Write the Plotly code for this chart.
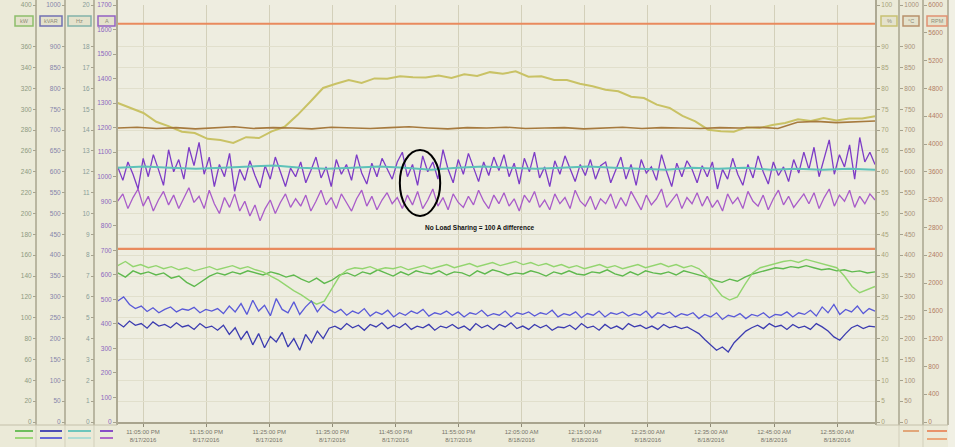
import numpy as np
import plotly.graph_objects as go

W, H = 955, 447
def px(x): return x / W
def py(y): return 1 - y / H

# ---------------- data ----------------
# time axis: minutes after 11:05 PM (8/17/2016)
tick_minutes = [0, 10, 20, 30, 40, 50, 60, 70, 80, 90, 100, 110]
tick_labels = ["11:05:00 PM<br>8/17/2016", "11:15:00 PM<br>8/17/2016", "11:25:00 PM<br>8/17/2016",
               "11:35:00 PM<br>8/17/2016", "11:45:00 PM<br>8/17/2016", "11:55:00 PM<br>8/17/2016",
               "12:05:00 AM<br>8/18/2016", "12:15:00 AM<br>8/18/2016", "12:25:00 AM<br>8/18/2016",
               "12:35:00 AM<br>8/18/2016", "12:45:00 AM<br>8/18/2016", "12:55:00 AM<br>8/18/2016"]
t_first, t_last = -4.0, 116.0

# Generator current A (purple axis, 0-1700)
amps_gen1 = [1040, 985, 1060, 1010, 950, 1075, 1000, 1090, 1030, 965, 1110, 1020, 1070, 990, 1120, 1045,
             1140, 1010, 1080, 960, 1050, 1000, 1095, 940, 1030, 985, 1065, 1005, 955, 1045, 990, 1080, 1020, 960, 1035, 1000,
             1060, 975, 1025, 1080, 995, 1040, 960, 1070, 1010, 1050, 985, 1090, 1015, 970, 1055, 1000, 1075, 1030, 990, 1060,
             1100, 1000, 1050, 965, 1085, 1020, 1060, 990, 1110, 1030, 975, 1070, 1010, 1095, 1040, 980, 1060, 1005, 1080, 1025,
             1090, 1000, 1055, 970, 1075, 1020, 1100, 995, 1040, 960, 1065, 1010, 1085, 1030, 980, 1050, 1005, 1070, 990, 1045,
             1060, 975, 1030, 1080, 990, 1050, 965, 1070, 1015, 1040, 985, 1090, 1020, 960, 1055, 1000, 1065, 1030, 975, 1045,
             1000, 1060, 950, 1030, 990, 1075, 1010, 965, 1050, 995, 1085, 1020, 970, 1060, 1005, 1040, 980, 1070, 1015, 1100,
             1030, 1120, 1000, 1080, 1150, 1010, 1090, 1040, 1130, 990, 1160, 1060, 1100, 1050]
amps_gen2 = [900, 930, 870, 915, 950, 880, 920, 860, 905, 940, 885, 925, 870, 910, 955, 895,
             920, 870, 945, 890, 850, 915, 875, 930, 860, 900, 840, 885, 820, 870, 905, 850, 895, 930, 875, 910,
             880, 925, 860, 900, 945, 885, 915, 870, 930, 895, 860, 910, 945, 880, 920, 865, 905, 935, 890, 915,
             870, 925, 885, 940, 870, 905, 950, 880, 915, 865, 930, 895, 875, 920, 885, 945, 900, 870, 925, 890,
             935, 880, 910, 860, 925, 895, 940, 875, 905, 865, 930, 890, 915, 870, 945, 900, 880, 920, 865, 910,
             890, 930, 870, 915, 880, 940, 900, 865, 925, 885, 910, 950, 875, 905, 930, 870, 915, 890, 935, 880,
             920, 875, 905, 860, 930, 890, 915, 870, 940, 900, 880, 925, 865, 910, 945, 885, 920, 875, 905, 930,
             890, 935, 870, 915, 950, 880, 925, 900, 945, 875, 920, 890, 930, 905]

# Teal trace (0-20 axis)
teal_vals = [12.2, 12.25, 12.2, 12.15, 12.2, 12.25, 12.3, 12.2, 12.15, 12.2, 12.25, 12.2, 12.1, 12.2, 12.25,
             12.2, 12.15, 12.2, 12.25, 12.2, 12.15, 12.1, 12.2, 12.15, 12.2, 12.1, 12.15, 12.1, 12.15, 12.1]

# Yellow trace (right axis 0-100)
yellow_vals = [76.5, 75.3, 74.1, 72.0, 70.9, 69.6, 69.3, 67.9, 67.6, 66.9, 68.3, 68.1, 69.7, 70.8, 73.6,
               76.8, 80.1, 81.1, 82.0, 81.3, 82.4, 82.3, 82.9, 82.7, 82.6, 83.1, 82.5, 83.4, 83.0, 83.9,
               83.5, 84.1, 82.8, 82.9, 82.0, 82.0, 81.1, 80.5, 79.7, 79.3, 78.0, 77.7, 76.1, 75.3, 73.4,
               72.1, 70.1, 69.7, 69.6, 70.7, 70.5, 71.2, 71.7, 72.6, 72.2, 72.9, 72.3, 72.8, 72.8, 73.3]

# Brown trace (right axis 0-1000)
brown_vals = [705, 707, 704, 706, 703, 705, 708, 704, 706, 705, 703, 707, 705, 704, 706, 708, 705, 703, 706, 705,
              707, 704, 705, 706, 703, 705, 707, 704, 706, 705, 704, 706, 705, 707, 704, 719, 721, 718, 720, 722]

# Green traces (left axis 0-400)
green_1 = [150, 154, 149, 151, 148, 150, 147, 149, 146, 148, 145, 147, 149, 146, 148, 150, 147, 149, 146, 144,
           140, 136, 131, 126, 122, 117, 113, 116, 128, 140, 146, 148, 147, 149, 146, 148, 147, 149, 146, 148,
           150, 147, 149, 151, 148, 150, 152, 149, 151, 153, 150, 152, 154, 151, 153, 150, 152, 149, 151, 148,
           150, 147, 149, 151, 148, 150, 147, 149, 151, 148, 150, 152, 149, 151, 148, 150, 147, 140, 130, 121,
           117, 120, 132, 143, 148, 150, 152, 154, 155, 153, 156, 154, 152, 150, 148, 140, 130, 124, 127, 130]
green_2 = [143, 139, 145, 142, 144, 141, 143, 138, 140, 134, 130, 135, 140, 143, 141, 144, 142, 145, 143, 141,
           144, 142, 139, 141, 137, 134, 138, 133, 136, 141, 143, 140, 144, 142, 146, 143, 140, 144, 141, 145,
           143, 142, 145, 141, 144, 143, 140, 145, 142, 146, 144, 141, 143, 142, 145, 143, 140, 144, 142, 145,
           142, 141, 144, 143, 146, 142, 140, 144, 141, 145, 143, 142, 144, 141, 145, 143, 141, 139, 136, 134,
           137, 135, 139, 142, 144, 146, 148, 147, 149, 148, 150, 148, 146, 147, 145, 146, 144, 145, 143, 144]

# Blue traces (left axis 0-1000)
blue_1 = [290, 300, 282, 272, 278, 265, 274, 262, 270, 276, 264, 271, 268, 275, 262, 270, 266,
          272, 260, 278, 264, 284, 258, 292, 266, 280, 255, 296, 270, 262, 288, 258, 276, 290, 264, 282, 270,
          262, 270, 256, 266, 260, 272, 254, 264, 258, 268, 252, 262, 256, 266, 260, 270, 254, 262, 258, 266,
          256, 264, 252, 262, 258, 268, 254, 260, 256, 266, 252, 262, 258, 264, 254, 262, 258, 268, 252, 260,
          256, 264, 250, 260, 256, 266, 252, 262, 258, 264, 254, 260, 256, 266, 250, 262, 258, 264, 252, 260,
          256, 262, 248, 258, 252, 262, 246, 256, 252, 260, 248, 258, 254, 262, 250, 258, 256, 264, 252, 262,
          258, 268, 254, 276, 262, 282, 258, 270, 264, 278, 260, 272, 266]
blue_2 = [238, 228, 242, 232, 236, 225, 240, 230, 234, 226, 238, 228, 232, 222, 236, 226, 230,
          220, 232, 210, 226, 198, 218, 185, 212, 178, 205, 192, 215, 180, 200, 172, 210, 190, 218, 200, 225,
          230, 222, 236, 226, 232, 220, 234, 228, 238, 224, 232, 226, 236, 222, 230, 226, 234, 220, 230, 226,
          234, 224, 230, 220, 236, 226, 232, 222, 234, 228, 238, 224, 230, 222, 234, 226, 232, 220, 228, 226,
          232, 222, 236, 226, 230, 220, 234, 224, 230, 222, 236, 228, 232, 224, 230, 222, 234, 226, 230, 224,
          228, 220, 212, 198, 185, 172, 180, 168, 190, 205, 218, 226, 232, 224, 236, 228, 232, 222, 234, 226,
          230, 222, 236, 228, 218, 204, 196, 212, 226, 232, 224, 230, 228]

# Orange limit traces (right axis 0-6000)
orange_high = [5730, 5730]
orange_low = [2490, 2490]

# ---------------- figure ----------------
def times(vals):
    return np.linspace(t_first, t_last, len(vals))

BG = "#EBEAD8"
PLOT_BG = "#EEEDE0"
SEP = "#ADA993"
FONT = "Liberation Sans"

fig = go.Figure()
def add(vals, axis, color, width=1.3):
    fig.add_trace(go.Scatter(x=times(vals), y=vals, yaxis=axis, mode="lines",
                             line=dict(color=color, width=width), showlegend=False, hoverinfo="skip"))

add(orange_high, "y7", "#E98A5E", 2.2)
add(orange_low, "y7", "#E98A5E", 2.2)
add(yellow_vals, "y5", "#C9C265", 2.0)
add(brown_vals, "y6", "#A67A3E", 1.6)
add(teal_vals, "y4", "#5EC2B9", 2.0)
add(amps_gen2, "y", "#A95CC9", 1.3)
add(amps_gen1, "y", "#7D3CC6", 1.3)
add(green_2, "y2", "#5FB94E", 1.4)
add(green_1, "y2", "#93D56F", 1.4)
add(blue_2, "y3", "#3C3CB0", 1.3)
add(blue_1, "y3", "#5A5AD8", 1.3)

dom_y = [py(422), py(5)]
tickfont = lambda c: dict(family=FONT, size=6.5, color=c)

def vals_for(maxv, step, skip_second=True):
    v = list(np.arange(0, maxv + step / 2, step))
    v = [int(a) if float(a).is_integer() else a for a in v]
    if skip_second:
        v = v[:-2] + v[-1:]
    return v

common = dict(domain=dom_y, ticks="outside", ticklen=3, tickcolor="#A6A28E", showgrid=False,
              zeroline=False, showline=False, fixedrange=True, automargin=False)

fig.update_layout(
    width=W, height=H, margin=dict(l=0, r=0, t=0, b=0, autoexpand=False),
    paper_bgcolor=BG, plot_bgcolor=PLOT_BG,
    font=dict(family=FONT, size=7, color="#8E8C78"),
    xaxis=dict(domain=[px(117), px(876)], range=[-4.12, 116.16], tickvals=tick_minutes, ticktext=tick_labels,
               ticks="outside", ticklen=3, tickcolor="#8E8A76", showgrid=True, gridcolor="#D3D0BA", gridwidth=1,
               showline=True, linecolor="#A8A48E", linewidth=2, zeroline=False, automargin=False,
               tickfont=dict(family=FONT, size=6, color="#77756A"), fixedrange=True),
    yaxis=dict(range=[0, 1700], tickvals=vals_for(1700, 100, False), anchor="x", side="left",
               tickfont=tickfont("#8A68BE"), **common),
    yaxis2=dict(range=[0, 400], tickvals=vals_for(400, 20), overlaying="y", anchor="free", side="left",
                position=px(36), tickfont=tickfont("#8E9A80"), **common),
    yaxis3=dict(range=[0, 1000], tickvals=vals_for(1000, 50), overlaying="y", anchor="free", side="left",
                position=px(65), tickfont=tickfont("#8585AA"), **common),
    yaxis4=dict(range=[0, 20], tickvals=vals_for(20, 1), overlaying="y", anchor="free", side="left",
                position=px(94), tickfont=tickfont("#8A9E98"),
                **{**common, "showgrid": True, "gridcolor": "#E1DFCC"}),
    yaxis5=dict(range=[0, 100], tickvals=vals_for(100, 5), overlaying="y", anchor="x", side="right",
                tickfont=tickfont("#A8A47A"), **common),
    yaxis6=dict(range=[0, 1000], tickvals=vals_for(1000, 50), overlaying="y", anchor="free", side="right",
                position=px(899), tickfont=tickfont("#A89078"), **common),
    yaxis7=dict(range=[0, 6000], tickvals=vals_for(6000, 400, False), overlaying="y", anchor="free", side="right",
                position=px(923), tickfont=tickfont("#B27C64"), **common),
)

shapes = []
# plot area top strip
shapes.append(dict(type="rect", xref="paper", yref="paper", x0=px(117), x1=px(876), y0=py(5), y1=1,
                   fillcolor=PLOT_BG, line=dict(width=0), layer="below"))
# right margin strip
shapes.append(dict(type="rect", xref="paper", yref="paper", x0=px(948), x1=1, y0=0, y1=1,
                   fillcolor="#F1F0E4", line=dict(width=0), layer="below"))
# column separators
for xs in [36, 65, 94, 117, 876, 899, 923, 948]:
    shapes.append(dict(type="line", xref="paper", yref="paper", x0=px(xs), x1=px(xs), y0=py(425), y1=1,
                       line=dict(color=SEP, width=2 if xs in (117, 876) else 1.6)))
for xs in [36, 65, 94, 899, 923]:
    shapes.append(dict(type="line", xref="paper", yref="paper", x0=px(xs), x1=px(xs), y0=0, y1=py(425),
                       line=dict(color="#D2CFBB", width=1)))
shapes.append(dict(type="line", xref="paper", yref="paper", x0=0, x1=px(117), y0=py(425), y1=py(425),
                   line=dict(color="#C4C0AA", width=1)))
shapes.append(dict(type="line", xref="paper", yref="paper", x0=px(876), x1=px(948), y0=py(425), y1=py(425),
                   line=dict(color="#C4C0AA", width=1)))
# header boxes
boxes = [(15, 33, "#8DBF6B", "kW"), (40, 62, "#7171B2", "kVAR"), (68, 91, "#82B2A9", "Hz"),
         (98, 115, "#9262C2", "A"), (881, 897, "#C8C172", "%"), (903, 919, "#B8916B", "°C"),
         (927, 947, "#E19172", "RPM")]
annotations = []
for x0, x1, c, txt in boxes:
    shapes.append(dict(type="rect", xref="paper", yref="paper", x0=px(x0), x1=px(x1), y0=py(26), y1=py(16),
                       fillcolor="#E4E2CC", line=dict(color=c, width=1.5)))
    annotations.append(dict(xref="paper", yref="paper", x=px((x0 + x1) / 2), y=py(21), text=txt,
                            showarrow=False, font=dict(family=FONT, size=5.5, color="#8E8C78"),
                            xanchor="center", yanchor="middle"))
# bottom legend samples
legend_marks = [(15, 33, 431, "#5FB94E"), (15, 33, 438, "#93D56F"),
                (40, 62, 431, "#3C3CB0"), (40, 62, 438, "#5A5AD8"),
                (68, 91, 431, "#5EC2B9"), (68, 91, 438, "#A8DCD4"),
                (100, 113, 431, "#7D3CC6"), (100, 113, 438, "#A95CC9"),
                (903, 919, 431, "#E0A070"),
                (927, 947, 431, "#E98A5E"), (927, 947, 439, "#EBA070")]
for x0, x1, yy, c in legend_marks:
    shapes.append(dict(type="line", xref="paper", yref="paper", x0=px(x0), x1=px(x1), y0=py(yy), y1=py(yy),
                       line=dict(color=c, width=1.8)))
# annotation ellipse around the current traces
shapes.append(dict(type="circle", xref="x", yref="y", x0=40.7, x1=47.1, y0=840, y1=1109,
                   line=dict(color="black", width=2)))
annotations.append(dict(xref="x", yref="y", x=53.4, y=791, text="<b>No Load Sharing = 100 A difference</b>",
                        showarrow=False, font=dict(family=FONT, size=6.5, color="#111111"),
                        xanchor="center", yanchor="middle"))

fig.update_layout(shapes=shapes, annotations=annotations)
fig.write_html("out.html", config={"displayModeBar": False, "staticPlot": True},
               post_script="document.body.style.margin='0';document.body.style.overflow='hidden';")
